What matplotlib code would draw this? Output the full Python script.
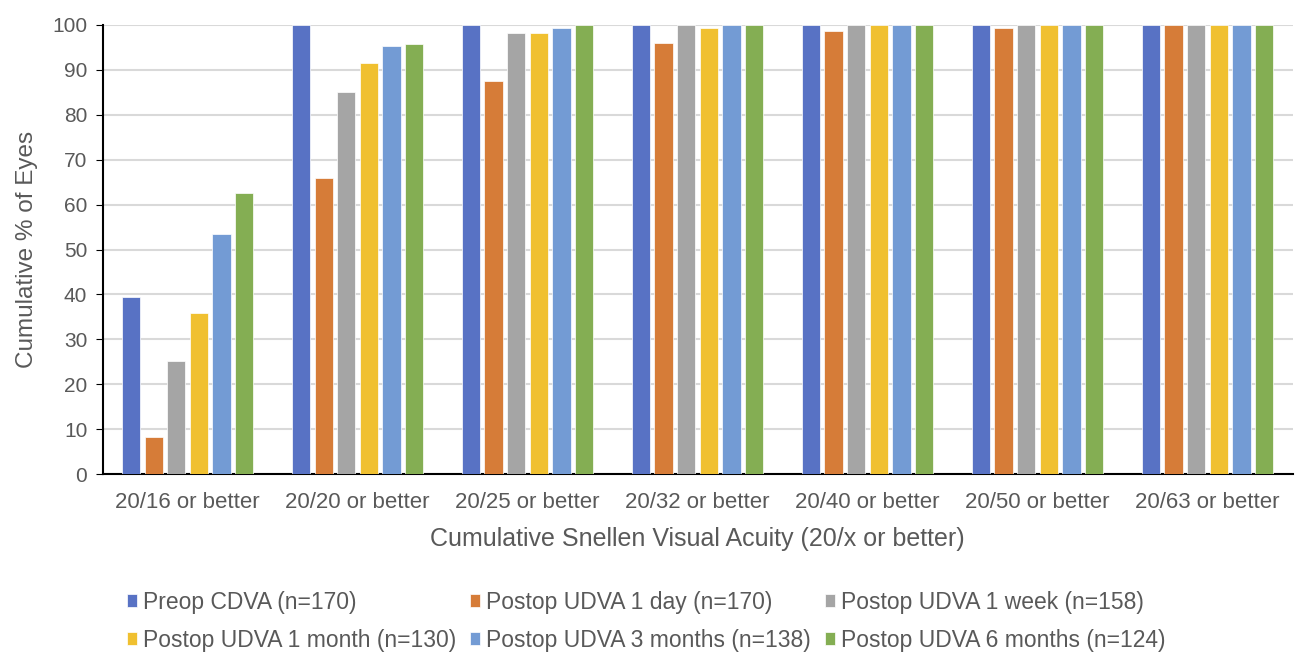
import matplotlib.pyplot as plt
import numpy as np

plt.rcParams['font.family'] = ['Liberation Sans', 'DejaVu Sans']

# Data
categories = ["20/16 or better", "20/20 or better", "20/25 or better", "20/32 or better",
              "20/40 or better", "20/50 or better", "20/63 or better"]
series_names = ["Preop CDVA (n=170)", "Postop UDVA 1 day (n=170)", "Postop UDVA 1 week (n=158)",
                "Postop UDVA 1 month (n=130)", "Postop UDVA 3 months (n=138)", "Postop UDVA 6 months (n=124)"]
preop_cdva = [39.4, 100, 100, 100, 100, 100, 100]
udva_1day = [8.3, 65.9, 87.4, 95.9, 98.7, 99.2, 100]
udva_1week = [25.2, 85.1, 98.1, 100, 100, 100, 100]
udva_1month = [35.9, 91.4, 98.1, 99.3, 100, 100, 100]
udva_3months = [53.5, 95.3, 99.3, 100, 100, 100, 100]
udva_6months = [62.5, 95.8, 100, 100, 100, 100, 100]
colors = ["#5872C4", "#D67C38", "#A5A5A5", "#F0C030", "#739BD4", "#84AE53"]

series = [preop_cdva, udva_1day, udva_1week, udva_1month, udva_3months, udva_6months]
text_color = "#595959"

fig = plt.figure(figsize=(12.99, 6.54), dpi=100)
ax = fig.add_axes([0.079, 0.275, 0.916, 0.687])

x = np.arange(len(categories))
step = 0.133
width = 0.108
bars = []
for i, (name, vals) in enumerate(zip(series_names, series)):
    offset = (i - 2.5) * step
    b = ax.bar(x + offset, vals, width, label=name, color=colors[i],
               edgecolor="white", linewidth=0.5, zorder=3)
    bars.append(b)

ax.set_xlim(-0.5, len(categories) - 0.5)
ax.set_ylim(0, 100)
ax.set_yticks(range(0, 101, 10))
ax.set_xticks(x)
ax.set_xticklabels(categories)
ax.tick_params(axis='x', labelsize=16, colors=text_color, length=0, pad=13)
ax.tick_params(axis='y', labelsize=15, labelcolor=text_color, length=5, color='black', pad=6)
ax.grid(axis='y', color='#D9D9D9', linewidth=1.5, zorder=0)
for s in ['top', 'right']:
    ax.spines[s].set_visible(False)
ax.spines['left'].set_color('black')
ax.spines['bottom'].set_color('black')
ax.spines['left'].set_linewidth(1.5)
ax.spines['bottom'].set_linewidth(1.5)

ax.set_xlabel("Cumulative Snellen Visual Acuity (20/x or better)", fontsize=18, color=text_color, labelpad=10)
ax.set_ylabel("Cumulative % of Eyes", fontsize=17.5, color=text_color, labelpad=10)

# legend filled row by row, like the original
order = [0, 3, 1, 4, 2, 5]
leg = fig.legend([bars[k] for k in order], [series_names[k] for k in order],
                 loc='lower left', bbox_to_anchor=(0.082, -0.028), ncol=3, frameon=False,
                 fontsize=16.5, handlelength=0.45, handleheight=0.45, handletextpad=0.25,
                 columnspacing=0.6, labelspacing=0.65)
for t in leg.get_texts():
    t.set_color(text_color)

fig.savefig("out.png", dpi=100)
